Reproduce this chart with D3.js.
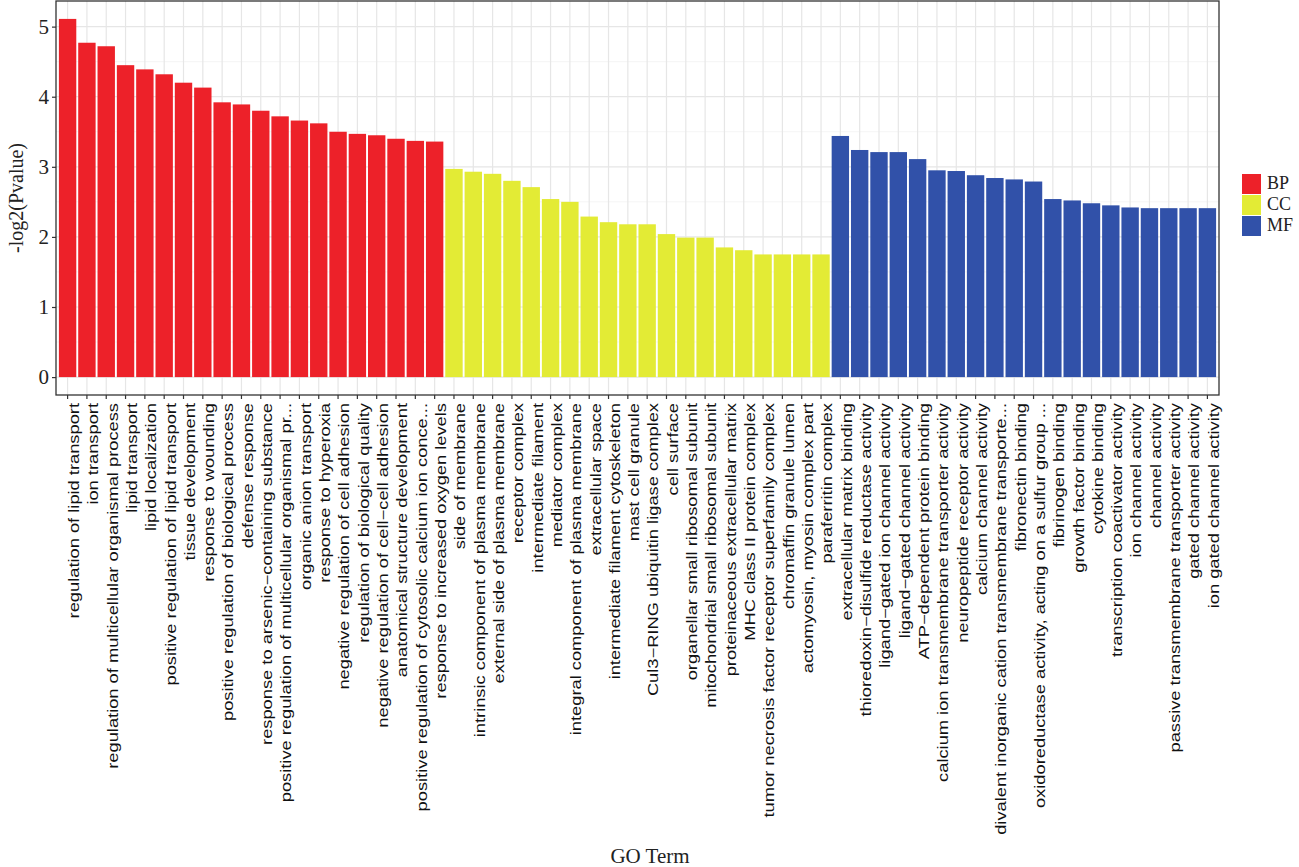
<!DOCTYPE html>
<html>
<head>
<meta charset="utf-8">
<script src="https://cdnjs.cloudflare.com/ajax/libs/d3/7.8.5/d3.min.js"></script>
<style>
  body { margin: 0; background: #fff; }
  svg { display: block; }
</style>
</head>
<body>
<div class="chart"></div>
<script>
// GO terms, in plotting order
const bpTerms = [
  "regulation of lipid transport", "ion transport",
  "regulation of multicellular organismal process", "lipid transport",
  "lipid localization", "positive regulation of lipid transport",
  "tissue development", "response to wounding",
  "positive regulation of biological process", "defense response",
  "response to arsenic\u2212containing substance",
  "positive regulation of multicellular organismal pr...",
  "organic anion transport", "response to hyperoxia",
  "negative regulation of cell adhesion", "regulation of biological quality",
  "negative regulation of cell\u2212cell adhesion", "anatomical structure development",
  "positive regulation of cytosolic calcium ion conce...",
  "response to increased oxygen levels"
];
const bpValues = [5.11, 4.77, 4.72, 4.45, 4.39, 4.32, 4.20, 4.13, 3.92, 3.89,
  3.80, 3.72, 3.66, 3.62, 3.50, 3.47, 3.45, 3.40, 3.37, 3.36];

const ccTerms = [
  "side of membrane", "intrinsic component of plasma membrane",
  "external side of plasma membrane", "receptor complex",
  "intermediate filament", "mediator complex",
  "integral component of plasma membrane", "extracellular space",
  "intermediate filament cytoskeleton", "mast cell granule",
  "Cul3\u2212RING ubiquitin ligase complex", "cell surface",
  "organellar small ribosomal subunit", "mitochondrial small ribosomal subunit",
  "proteinaceous extracellular matrix", "MHC class II protein complex",
  "tumor necrosis factor receptor superfamily complex", "chromaffin granule lumen",
  "actomyosin, myosin complex part", "paraferritin complex"
];
const ccValues = [2.97, 2.93, 2.90, 2.80, 2.71, 2.54, 2.50, 2.29, 2.21, 2.18,
  2.18, 2.04, 1.99, 1.99, 1.85, 1.81, 1.75, 1.75, 1.75, 1.75];

const mfTerms = [
  "extracellular matrix binding", "thioredoxin\u2212disulfide reductase activity",
  "ligand\u2212gated ion channel activity", "ligand\u2212gated channel activity",
  "ATP\u2212dependent protein binding", "calcium ion transmembrane transporter activity",
  "neuropeptide receptor activity", "calcium channel activity",
  "divalent inorganic cation transmembrane transporte...", "fibronectin binding",
  "oxidoreductase activity, acting on a sulfur group ...", "fibrinogen binding",
  "growth factor binding", "cytokine binding",
  "transcription coactivator activity", "ion channel activity",
  "channel activity", "passive transmembrane transporter activity",
  "gated channel activity", "ion gated channel activity"
];
const mfValues = [3.44, 3.24, 3.21, 3.21, 3.11, 2.95, 2.94, 2.88, 2.84, 2.82,
  2.79, 2.54, 2.52, 2.48, 2.45, 2.42, 2.41, 2.41, 2.41, 2.41];

const groups = ["BP", "CC", "MF"];
const groupColors = ["#ED2129", "#E3EB35", "#3151A9"];
const yTicks = [0, 1, 2, 3, 4, 5];

let data = [];
bpTerms.forEach((t, i) => data.push({ term: t, value: bpValues[i], group: "BP" }));
ccTerms.forEach((t, i) => data.push({ term: t, value: ccValues[i], group: "CC" }));
mfTerms.forEach((t, i) => data.push({ term: t, value: mfValues[i], group: "MF" }));

const W = 1299, H = 867;
const panel = { left: 56, right: 1219, top: 1, bottom: 395 };

const svg = d3.select(".chart").append("svg")
  .attr("width", W)
  .attr("height", H);

const x = d3.scaleBand()
  .domain(data.map((d, i) => i))
  .range([panel.left, panel.right])
  .paddingInner(0.1)
  .paddingOuter(0.15);

const ymax = d3.max(data, d => d.value);
const y = d3.scaleLinear()
  .domain([-0.05 * ymax, ymax * 1.05])
  .range([panel.bottom, panel.top]);

const color = d3.scaleOrdinal().domain(groups).range(groupColors);

// panel background + grid
svg.append("rect")
  .attr("x", panel.left).attr("y", panel.top)
  .attr("width", panel.right - panel.left)
  .attr("height", panel.bottom - panel.top)
  .attr("fill", "#fff");

const minor = d3.range(0.5, 5.5, 1);
svg.append("g").selectAll("line")
  .data(minor)
  .join("line")
  .attr("x1", panel.left).attr("x2", panel.right)
  .attr("y1", d => y(d)).attr("y2", d => y(d))
  .attr("stroke", "#f2f2f2")
  .attr("stroke-width", 0.8);

svg.append("g").selectAll("line")
  .data(yTicks)
  .join("line")
  .attr("x1", panel.left).attr("x2", panel.right)
  .attr("y1", d => y(d)).attr("y2", d => y(d))
  .attr("stroke", "#e6e6e6")
  .attr("stroke-width", 1.2);

svg.append("g").selectAll("line")
  .data(data)
  .join("line")
  .attr("x1", (d, i) => x(i) + x.bandwidth() / 2)
  .attr("x2", (d, i) => x(i) + x.bandwidth() / 2)
  .attr("y1", panel.top).attr("y2", panel.bottom)
  .attr("stroke", "#e6e6e6")
  .attr("stroke-width", 1.2);

// bars
svg.append("g").selectAll("rect")
  .data(data)
  .join("rect")
  .attr("x", (d, i) => x(i))
  .attr("width", x.bandwidth())
  .attr("y", d => y(d.value))
  .attr("height", d => y(0) - y(d.value))
  .attr("fill", d => color(d.group));

// border
svg.append("rect")
  .attr("x", panel.left).attr("y", panel.top)
  .attr("width", panel.right - panel.left)
  .attr("height", panel.bottom - panel.top)
  .attr("fill", "none")
  .attr("stroke", "#333")
  .attr("stroke-width", 1.3);

// y axis
const yAxis = svg.append("g")
  .attr("transform", "translate(" + panel.left + ",0)")
  .call(d3.axisLeft(y).tickValues(yTicks).tickSize(4).tickPadding(3).tickFormat(d3.format("d")));
yAxis.select(".domain").remove();
yAxis.selectAll(".tick line").attr("stroke", "#333").attr("stroke-width", 1.2);
yAxis.selectAll("text")
  .attr("font-family", "'Liberation Serif', 'Times New Roman', serif")
  .attr("font-size", 21)
  .attr("fill", "#222");

// x axis ticks
svg.append("g").selectAll("line")
  .data(data)
  .join("line")
  .attr("x1", (d, i) => x(i) + x.bandwidth() / 2)
  .attr("x2", (d, i) => x(i) + x.bandwidth() / 2)
  .attr("y1", panel.bottom).attr("y2", panel.bottom + 4)
  .attr("stroke", "#333")
  .attr("stroke-width", 1.2);

// x labels (rotated, squeezed)
svg.append("g").selectAll("text")
  .data(data)
  .join("text")
  .attr("transform", (d, i) => "translate(" + (x(i) + x.bandwidth() / 2) + "," + (panel.bottom + 8) + ") rotate(-90) scale(1,0.75)")
  .attr("x", 0)
  .attr("y", 15.1)
  .attr("text-anchor", "end")
  .attr("font-family", "'Liberation Sans', Arial, sans-serif")
  .attr("font-size", 18.3)
  .attr("fill", "#111")
  .text(d => d.term);

// axis titles
svg.append("text")
  .attr("transform", "translate(23," + ((panel.top + panel.bottom) / 2) + ") rotate(-90)")
  .attr("text-anchor", "middle")
  .attr("font-family", "'Liberation Serif', 'Times New Roman', serif")
  .attr("font-size", 20)
  .attr("fill", "#222")
  .text("-log2(Pvalue)");

svg.append("text")
  .attr("x", 650)
  .attr("y", 863)
  .attr("text-anchor", "middle")
  .attr("font-family", "'Liberation Serif', 'Times New Roman', serif")
  .attr("font-size", 21)
  .attr("fill", "#222")
  .text("GO Term");

// legend
const legend = svg.append("g")
  .attr("transform", "translate(1242,174)");
legend.selectAll("rect")
  .data(groups)
  .join("rect")
  .attr("x", 0)
  .attr("y", (d, i) => i * 21)
  .attr("width", 19)
  .attr("height", 20)
  .attr("fill", d => color(d));
legend.selectAll("text")
  .data(groups)
  .join("text")
  .attr("x", 25)
  .attr("y", (d, i) => i * 21 + 15)
  .attr("font-family", "'Liberation Serif', 'Times New Roman', serif")
  .attr("font-size", 18)
  .attr("fill", "#222")
  .text(d => d);
</script>
</body>
</html>
